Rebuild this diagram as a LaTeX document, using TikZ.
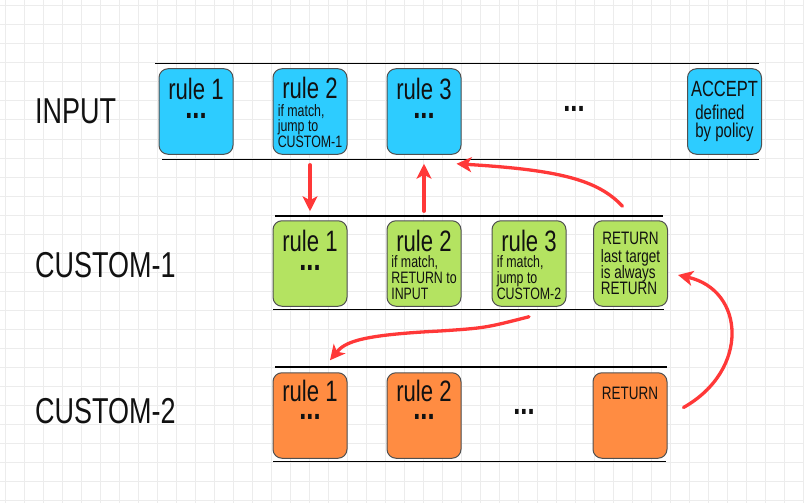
\documentclass[tikz,border=0pt]{standalone}
\usepackage{fontspec}
\setmainfont[FakeStretch=0.75]{Liberation Sans}
\usetikzlibrary{arrows.meta}
\definecolor{gridc}{RGB}{236,236,236}
\definecolor{bluef}{RGB}{45,204,255}
\definecolor{greenf}{RGB}{180,227,97}
\definecolor{orangef}{RGB}{255,140,66}
\definecolor{edgec}{RGB}{80,80,80}
\definecolor{arrowc}{RGB}{255,56,56}
\definecolor{txtc}{RGB}{17,17,17}
\newcommand\lefttxt[2]{\vtop{\baselineskip=#1\lineskiplimit=-50pt\lineskip=0pt\halign{##\hfil\cr#2\crcr}}}
\begin{document}
\begin{tikzpicture}[x=1pt,y=-1pt,
  gridline/.style={draw=gridc, line width=1pt},
  rowline/.style={draw=black, line width=1.8pt},
  rbox/.style={draw=edgec, line width=1pt, rounded corners=9pt, minimum width=74pt, minimum height=85.5pt, inner sep=0pt},
  title/.style={font=\fontsize{29.5}{30}\selectfont, text=txtc, anchor=base, inner sep=0pt, text depth=0pt},
  dotsx/.style={font=\fontsize{34}{34}\selectfont\bfseries, text=txtc, anchor=base, inner sep=0pt, text height=5pt, text depth=0pt},
  small/.style={font=\fontsize{16.5}{16}\selectfont, text=txtc, anchor=base, inner sep=0pt},
  mid/.style={font=\fontsize{18}{16}\selectfont, text=txtc, anchor=base, inner sep=0pt},
  rowlabel/.style={font=\fontsize{36}{36}\selectfont, text=txtc, anchor=base west, inner sep=0pt},
  arr/.style={draw=arrowc, line width=3.3pt, line cap=round, -{Stealth[length=15pt,width=15pt,inset=4pt]}}
]
\useasboundingbox (0,0) rectangle (804,503);
\fill[white] (0,0) rectangle (804,503);
\foreach \i in {0,...,42} {\draw[gridline] (5+19*\i,0) -- (5+19*\i,503);}
\foreach \j in {0,...,26} {\draw[gridline] (0,6+19*\j) -- (804,6+19*\j);}

% row labels
\node[rowlabel] (lin) at (35,124) {INPUT};
\node[rowlabel] (lc1) at (35,277) {CUSTOM-1};
\node[rowlabel] (lc2) at (35,423) {CUSTOM-2};

% row lines
\draw[rowline] (155,63.5) -- (759,63.5);
\draw[rowline] (162,159.5) -- (759,159.5);
\draw[rowline] (275,216) -- (663,216);
\draw[rowline] (273,309.5) -- (664,309.5);
\draw[rowline] (275,367) -- (667,367);
\draw[rowline] (273,461.5) -- (666,461.5);

% INPUT boxes
\node[rbox, fill=bluef] (i1) at (196,111.5) {};
\node[rbox, fill=bluef] (i2) at (310,111.5) {};
\node[rbox, fill=bluef] (i3) at (424,111.5) {};
\node[rbox, fill=bluef] (i4) at (724.5,111.5) {};
\node[title] (i1t) at ([yshift=-31pt]i1.north) {rule 1};
\node[dotsx] (i1d) at ([yshift=-50pt]i1.north) {...};
\node[title] (i2t) at ([yshift=-30pt]i2.north) {rule 2};
\node[small] (i2s) at ([yshift=-48pt]i2.north) {\lefttxt{15.5pt}{if match,\cr jump to\cr CUSTOM-1}};
\node[title] (i3t) at ([yshift=-31pt]i3.north) {rule 3};
\node[dotsx] (i3d) at ([yshift=-50pt]i3.north) {...};
\node[title, font=\fontsize{22}{22}\selectfont] (i4t) at ([yshift=-28pt]i4.north) {ACCEPT};
\node[small, font=\fontsize{20}{18}\selectfont] (i4s) at ([yshift=-51pt]i4.north) {\lefttxt{18pt}{defined\cr by policy}};
\node[dotsx] (idots) at (574,111.5) {...};

% CUSTOM-1 boxes
\node[rbox, fill=greenf] (c1a) at (310,263.5) {};
\node[rbox, fill=greenf] (c1b) at (424,263.5) {};
\node[rbox, fill=greenf] (c1c) at (529,263.5) {};
\node[rbox, fill=greenf] (c1d) at (630.5,263.5) {};
\node[title] (c1at) at ([yshift=-31pt]c1a.north) {rule 1};
\node[dotsx] (c1ad) at ([yshift=-50pt]c1a.north) {...};
\node[title] (c1bt) at ([yshift=-31pt]c1b.north) {rule 2};
\node[small] (c1bs) at ([yshift=-47pt]c1b.north) {\lefttxt{16pt}{if match,\cr RETURN to\cr INPUT}};
\node[title] (c1ct) at ([yshift=-31pt]c1c.north) {rule 3};
\node[small] (c1cs) at ([yshift=-47pt]c1c.north) {\lefttxt{16pt}{if match,\cr jump to\cr CUSTOM-2}};
\node[mid, text depth=0pt] (c1dt) at ([yshift=-24pt]c1d.north) {RETURN};
\node[mid] (c1ds) at ([yshift=-42pt]c1d.north) {\lefttxt{16pt}{last target\cr is always\cr RETURN}};

% CUSTOM-2 boxes
\node[rbox, fill=orangef] (c2a) at (310,415.5) {};
\node[rbox, fill=orangef] (c2b) at (424,415.5) {};
\node[rbox, fill=orangef] (c2c) at (630,415.5) {};
\node[title] (c2at) at ([yshift=-29pt]c2a.north) {rule 1};
\node[dotsx] (c2ad) at ([yshift=-47pt]c2a.north) {...};
\node[title] (c2bt) at ([yshift=-29pt]c2b.north) {rule 2};
\node[dotsx] (c2bd) at ([yshift=-47pt]c2b.north) {...};
\node[mid] (c2ct) at ([yshift=-27pt]c2c.north) {RETURN};
\node[dotsx] (cdots) at (524,414.5) {...};

% arrows
\draw[arr] ([yshift=-10pt]i2.south) -- ([yshift=9pt]c1a.north);
\draw[arr] ([yshift=9pt]c1b.north) -- ([yshift=-9pt]i3.south);
\draw[arr] ([shift={(-8pt,14pt)}]c1d.north) .. controls (598,180) and (560,170) .. ([shift={(-5pt,-9pt)}]i3.south east);
\draw[arr] ([yshift=-10pt]c1c.south) .. controls (485,328) .. (440,331) .. controls (360,335) and (345,342) .. ([shift={(20pt,12pt)}]c2a.north);
\draw[arr] ([shift={(16pt,8pt)}]c2c.east) .. controls (750,370) and (745,290) .. ([shift={(10pt,-11.5pt)}]c1d.east);
\end{tikzpicture}
\end{document}
